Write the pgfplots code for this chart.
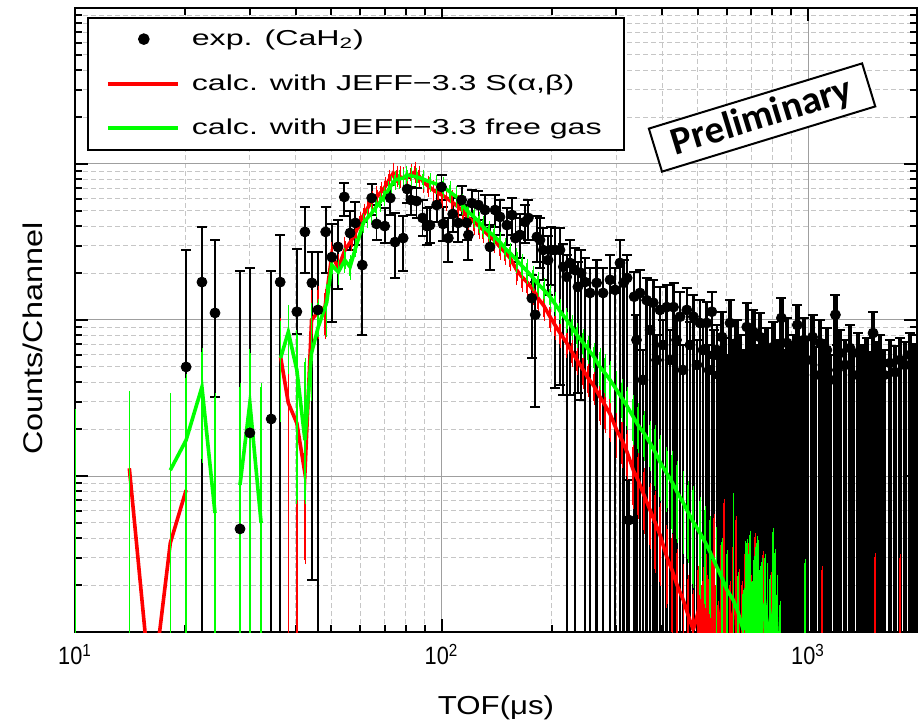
\documentclass[border=0pt]{standalone}
\usepackage{fontspec}
\setmainfont{Liberation Sans}
\newfontfamily\legfont{Liberation Sans}[FakeStretch=1.49]
\newfontfamily\labfont{Liberation Sans}[FakeStretch=1.2]
\newfontfamily\tickfont{Liberation Sans}[FakeStretch=0.87]
\newfontfamily\prelfont{Carlito}
\usepackage{pgfplots}
\pgfplotsset{compat=1.18}
\definecolor{cred}{RGB}{255,0,0}
\definecolor{cgreen}{RGB}{0,255,0}

\pgfplotsset{
  table/bnd/.style={x=x, y=y, y error plus expr=\thisrow{hi}-\thisrow{y}, y error minus expr=\thisrow{y}-\thisrow{lo}},
  expbars/.style={black, only marks, mark=*, mark size=2.5pt,
    error bars/y dir=both, error bars/y explicit,
    error bars/error bar style={line width=#1},
    error bars/error mark options={rotate=90, line width=0.9pt, mark size=2.5pt, black}, forget plot},
  calcbnd/.style={line width=1.8pt, mark=none,
    error bars/y dir=both, error bars/y explicit,
    error bars/error bar style={line width=0.8pt},
    error bars/error mark options={rotate=90, line width=0.8pt, mark size=1.7pt}, forget plot},
  calcrel/.style={line width=1.8pt, mark=none,
    error bars/y dir=both, error bars/y explicit relative,
    error bars/error bar style={line width=0.8pt},
    error bars/error mark options={rotate=90, line width=0.8pt, mark size=1.7pt}, forget plot},
}

\begin{document}
\begin{tikzpicture}
\path[use as bounding box] (0,0) rectangle (459pt,362.5pt);
\begin{axis}[
  at={(37.5pt,46.5pt)}, anchor=south west,
  width=421pt, height=312pt, scale only axis,
  xmode=log, ymode=log,
  xmin=10, xmax=1984, ymin=1, ymax=10000,
  xtick={10,100,1000},
  xticklabels={10\textsuperscript{1},10\textsuperscript{2},10\textsuperscript{3}},
  minor xtick={20,30,40,50,60,70,80,90,200,300,400,500,600,700,800,900},
  ytick={1,10,100,1000,10000}, yticklabels={},
  minor ytick={2,3,4,5,6,7,8,9,20,30,40,50,60,70,80,90,200,300,400,500,600,700,800,900,2000,3000,4000,5000,6000,7000,8000,9000},
  xmajorgrids, ymajorgrids, xminorgrids, yminorgrids,
  major grid style={gray!75, line width=0.5pt},
  minor grid style={gray!45, line width=0.5pt, dash pattern=on 2.5pt off 1.5pt},
  axis line style={black, line width=1.2pt},
  tick style={black, line width=1pt},
  major tick length=6.5pt, minor tick length=3.5pt,
  xticklabel style={font=\tickfont\fontsize{12.5}{14}\selectfont, yshift=-2.5pt},
  xlabel={TOF(μs)}, ylabel={Counts/Channel},
  xlabel style={font=\labfont\fontsize{13}{15}\selectfont, at={(axis description cs:0.5,-0.122)}, anchor=center},
  ylabel style={font=\labfont\fontsize{13.5}{15}\selectfont, at={(axis description cs:-0.05,0.47)}, anchor=center},
  legend style={at={(axis description cs:0.0143,0.9856)}, anchor=north west, draw=black, line width=0.8pt, fill=white,
    font=\legfont\fontsize{10.8}{12}\selectfont, inner xsep=9pt, inner ysep=4pt, row sep=9pt},
  legend cell align=left,
]

% experiment, sparse part
\addplot[expbars=0.9pt] table[bnd] {
x y lo hi
20.1 50.0 0.3 281
22.2 175 0.3 395
24.1 111 32.1 326
28.2 4.58 0.3 206
30.0 18.9 0.3 216
34.3 23.2 0.3 206
36.3 175 0.3 351
40.3 113 81.3 285
42.4 367 200 530
44.3 173 2.15 273
46.0 116 0.3 273
48.3 367 200 530
50.2 253 97.1 413
52.2 294 158 438
54.3 615 464 755
56.3 361 281 500
58.2 419 303 571
60.8 225 80.1 425
64.5 605 471 744
66.5 413 326 546
70.0 400 312 523
72.5 605 471 733
74.7 316 186 485
78.6 335 206 464
80.6 691 562 814
82.5 588 471 712
85.5 579 451 702
88.8 451 346 588
91.3 400 303 523
93.0 406 312 530
97.0 546 425 681
100 712 588 850
101 413 321 530
104.4 335 235 451
107.3 478 367 605
111.1 419 316 546
113.5 588 471 723
117.2 419 326 546
118.4 351 242 451
121 562 451 681
126.1 546 438 671
131.4 507 389 633
135.6 294 209 406
140 507 395 633
144.4 458 351 588
150.8 406 303 523
155.8 471 351 605
159.1 335 235 451
163.7 351 250 478
169 425 312 546
172.6 451 326 588
176.4 138 57.1 194
180.2 108 27.7 175
182.1 341 235 464
185.7 326 216 451
189.5 281 181 389
195.4 242 145 346
199.5 281 168 395
203.9 281 36.7 389
210.5 281 38.3 389
215 219 33.1 307
219.6 189 0.3 261
224.2 232 33.1 326
231.4 209 0.3 289
235.6 163 34.1 235
240.5 200 30.7 281
};

% experiment, dense part with gaps
\addplot[expbars=1.3pt] table[bnd] {
x y lo hi
246.3 175 0.3 250
254.2 149 0.3 216
265 173 0.3 242
276 149 0.3 216
288.3 181 0.3 261
297.5 156 0.3 216
306.9 232 0.3 326
314 173 0.3 242
321 186 0.3 261
324.5 5.22 0.3 9.43
335.5 141 0.3 203
340.4 74.5 0.3 108
348 149 0.3 209
354.6 41.3 0.3 64.2
362.9 134 0.3 186
370.7 86.3 0.3 125
378.4 129 0.3 181
386.2 55.4 0.3 80.1
394.7 116 0.3 163
402.2 69.2 0.3 100
411.8 121 0.3 168
420.3 55.4 0.3 86.3
429.6 121 0.3 173
437.8 74.5 0.3 103
447.6 105 0.3 151
456.1 47.8 0.3 69.2
467 116 0.3 160
476.4 69.2 0.3 97.1
486.9 105 0.3 145
497.8 51.5 0.3 74.5
507.4 95.7 0.3 134
517 64.2 0.3 92.9
529 95.7 0.3 130
536.9 47.8 0.3 69.2
546.5 113 0.3 151
554.2 59.7 0.3 86.3
564.1 64.2 0.3 92.9
571.9 44.4 0.3 64.2
};

% experiment, dense part (solid)
\addplot[expbars=2.3pt] table[bnd] {
x y lo hi
582.6 77.8 0.3 113
593.8 55.4 0.3 76.7
603.2 41.3 0.3 59.7
612.8 95.7 0.3 134
625.7 51.5 0.3 74.5
639.3 71.3 0.3 100
652.5 55.4 0.3 80.1
666.2 44.4 0.3 64.2
680.9 90.2 0.3 129
694.7 59.7 0.3 86.3
710 83.8 0.3 116
724.6 47.8 0.3 69.2
739.6 77.8 0.3 111
755.1 53.0 0.3 76.7
771 64.2 0.3 88.9
787.6 44.4 0.3 64.2
804 67.2 0.3 97.1
823 51.5 0.3 74.5
846 103 0.3 138
860 41.3 0.3 64.2
876 71.3 0.3 103
893.1 51.5 0.3 72.3
915 58.0 0.3 80.1
935 92.9 0.3 125
951 47.8 0.3 69.2
975 74.5 0.3 103
993.8 55.4 0.3 76.7
1029 77.8 0.3 108
1045 44.4 0.3 67.2
1078 71.3 0.3 100
1098 51.5 0.3 74.5
1126 64.2 0.3 88.9
1148 41.3 0.3 59.7
1188 108 0.3 145
1203 47.8 0.3 69.2
1223 61.5 0.3 86.3
1262 51.5 0.3 74.5
1302 66.1 0.3 92.9
1327 44.4 0.3 64.2
1370 61.5 0.3 82.5
1404 47.8 0.3 69.2
1445 55.4 0.3 76.7
1468 41.3 0.3 62.3
1505 82.5 0.3 113
1533 49.3 0.3 72.3
1572 57.1 0.3 80.1
1612 44.4 0.3 64.2
1674 53.0 0.3 74.5
1728 46.3 0.3 68.2
1782 55.4 0.3 76.7
1839 51.5 0.3 72.3
1898 59.7 0.3 82.5
1946 47.8 0.3 69.2
};

% ---- S(alpha,beta) calculation (red) ----
\addplot[cred, calcbnd, error bars/error mark options={cred}] table[bnd] {
x y lo hi
14.07 11.2 0.3 28.9
16.17 0.37 0.37 0.37
18.2 3.72 0.3 24.6
20.1 8.13 0.3 31.2
};
\addplot[cred, calcbnd, error bars/error mark options={cred}] table[bnd] {
x y lo hi
36.4 58.0 28.1 97.1
38.2 29.4 0.3 65.2
40.3 21.8 0.3 58.8
42.4 10.4 2.89 48.5
44.2 100 77.8 147
46.1 113 80.1 156
48.1 121 80.1 149
};
\addplot[cred, calcrel, error bars/error mark options={cred}] table[x=x, y=y, y error=r] {
x y r
48.1 121 0.2
50.2 261 0.15
52.3 216 0.15
54.5 281 0.15
56.9 326 0.1
58.4 367 0.1
59.9 425 0.1
61.5 478 0.1
63.1 530 0.1
64.8 579 0.1
66.6 615 0.1
68.4 661 0.1
70.1 712 0.1
71.9 790 0.1
73.9 876 0.1
75.6 838 0.1
77.1 826 0.1
78.8 814 0.1
80.4 814 0.1
82.6 863 0.1
84.7 889 0.1
86.8 838 0.1
89.2 767 0.1
91.9 723 0.1
95.0 681 0.1
97.8 652 0.1
100.3 633 0.12
103.3 605 0.12
106.8 571 0.12
111.1 530 0.12
114.5 500 0.12
118.3 451 0.12
122.7 425 0.12
126.6 400 0.12
130.0 378 0.12
134.8 346 0.12
139.1 326 0.12
144.4 294 0.12
149.0 273 0.12
153.8 250 0.12
160.4 209 0.15
165.8 189 0.15
171.1 175 0.15
178.0 156 0.15
183.4 138 0.15
190.4 123 0.15
197.7 105 0.15
204.0 92.9 0.15
210.5 82.5 0.15
219.6 71.3 0.15
227.0 62.3 0.15
234.3 55.4 0.15
243.7 47.8 0.2
251.0 42.5 0.2
260.7 37.7 0.2
270.7 32.1 0.3
279.3 28.5 0.3
288.3 25.0 0.3
300.6 19.7 0.3
310.8 17.0 0.3
320.7 14.3 0.3
333.7 10.9 0.4
343.7 9.43 0.4
356.9 7.55 0.4
370.7 6.05 0.4
382.3 5.07 0.5
394.7 4.19 0.5
411.7 3.03 0.5
425.6 2.50 0.6
439.2 2.00 0.6
456.9 1.60 0.6
470.5 1.29 0.7
486.4 1.03 0.7
};
\addplot[cred, calcbnd, error bars/error mark options={cred}] table[bnd] {
x y lo hi
486.4 1.03 0.5 1.5
501.1 1.34 0.3 2.5
507.0 1.10 0.3 3.1
513.8 0.6 0.3 2.0
520.0 1.25 0.3 2.6
526.9 1.73 0.3 3.0
533.0 0.9 0.3 2.2
540.4 0.6 0.3 1.8
547.0 1.2 0.3 2.9
554.0 1.49 0.3 5.38
561.0 0.8 0.3 2.0
568.1 0.5 0.3 1.5
578.0 1.3 0.3 3.4
589.9 1.86 0.3 6.72
600.0 0.9 0.3 2.6
612.8 0.5 0.3 2.0
624.0 1.3 0.3 3.5
636.2 1.60 0.3 5.22
648.0 0.7 0.3 2.4
660.6 0.6 0.3 2.0
672.0 1.1 0.3 3.0
686.0 1.19 0.3 3.5
700.0 0.6 0.3 2.2
716.8 0.4 0.3 4.06
};
\addplot[cred, calcbnd, only marks, mark=none, error bars/error mark options={cred}] table[bnd] {
x y lo hi
10.0 0.5 0.3 24.3
754.1 0.5 0.3 3.12
797.7 0.5 0.3 2.42
1092 0.5 0.3 2.50
1523 0.5 0.3 3.02
1782 0.5 0.3 2.98
};

% ---- free gas calculation (green) ----
\addplot[cgreen, calcbnd, error bars/error mark options={cgreen}] table[bnd] {
x y lo hi
18.2 10.9 0.3 32.1
20.1 17.0 0.3 42.5
22.2 37.2 12.9 62.3
24.1 5.79 0.3 32.1
};
\addplot[cgreen, calcbnd, error bars/error mark options={cgreen}] table[bnd] {
x y lo hi
28.2 8.76 0.3 37.2
30.0 29.4 0.3 61.5
32.2 5.0 0.3 37.2
};
\addplot[cgreen, calcbnd, error bars/error mark options={cgreen}] table[bnd] {
x y lo hi
36.4 57.1 23.6 92.9
38.2 83.8 47.8 118
40.3 47.8 7.02 81.3
42.4 17.0 7.02 53.8
44.2 61.5 32.1 121
46.1 90.2 82.5 129
48.6 129 82.5 160
};
\addplot[cgreen, calcrel, error bars/error mark options={cgreen}] table[x=x, y=y, y error=r] {
x y r
48.6 129 0.2
50.2 225 0.12
52.3 203 0.12
54.5 242 0.12
56.3 219 0.12
58.4 294 0.08
61.2 419 0.08
62.8 451 0.08
64.5 485 0.08
66.3 530 0.08
68.0 571 0.08
69.7 624 0.08
71.6 681 0.08
73.0 733 0.08
74.7 790 0.08
76.6 802 0.08
78.7 814 0.08
80.4 851 0.08
82.8 838 0.08
85.6 826 0.08
89.0 802 0.08
93.0 767 0.08
96.9 744 0.08
101.1 712 0.1
105.5 662 0.1
110.0 615 0.1
113.7 554 0.1
118.3 492 0.1
122.7 458 0.1
126.6 425 0.1
130.0 395 0.1
134.8 367 0.1
139.1 346 0.1
144.4 316 0.1
149.0 289 0.1
153.8 269 0.1
160.4 242 0.12
165.8 222 0.12
171.1 206 0.12
178.0 186 0.12
183.4 170 0.12
190.4 156 0.12
197.7 141 0.12
204.0 127 0.12
210.5 114 0.12
219.6 100 0.12
227.0 90.2 0.12
234.3 80.1 0.12
243.7 71.3 0.15
251.0 65.2 0.15
260.7 58.0 0.15
270.7 50.0 0.25
279.3 45.7 0.25
288.3 41.3 0.25
300.6 35.6 0.25
310.8 31.6 0.25
320.7 28.1 0.25
333.7 23.9 0.3
343.7 21.2 0.3
356.9 18.8 0.3
370.7 16.3 0.3
382.3 14.3 0.4
394.7 12.3 0.4
411.7 10.4 0.4
425.6 9.15 0.5
439.2 7.90 0.5
456.9 6.72 0.5
470.5 5.87 0.5
486.4 5.07 0.6
507.4 4.31 0.6
523.6 3.78 0.6
540.4 3.26 0.6
563.5 2.62 0.7
582.5 2.22 0.7
601.2 1.86 0.7
625.5 1.60 0.7
644.2 1.34 0.7
666 1.03 0.7
};
\addplot[cgreen, calcbnd, error bars/error mark options={cgreen}] table[bnd] {
x y lo hi
666 1.03 0.5 1.5
676 1.9 0.3 3.6
686.0 1.38 0.3 3.0
695 2.1 0.5 4.2
703.5 0.5 0.3 2.0
712 1.2 0.3 2.9
721.4 1.60 0.3 3.5
730 1.9 0.4 3.9
739.6 0.5 0.3 2.5
750 1.3 0.3 2.8
763 1.49 0.3 3.0
775 1.1 0.3 2.6
787.6 0.5 0.3 2.2
800 1.2 0.3 2.7
812.8 1.73 0.3 3.2
825 0.9 0.3 2.2
838.6 0.4 0.3 1.5
};
\addplot[cgreen, calcbnd, only marks, mark=none, error bars/error mark options={cgreen}] table[bnd] {
x y lo hi
10.0 0.5 0.3 25.3
14.07 0.5 0.3 33.1
625.5 0.5 0.3 7.33
681.7 0.5 0.3 3.72
802.7 0.5 0.3 4.38
981.3 0.5 0.3 2.77
};

\node[draw=black, line width=1pt, fill=white, rotate=17, inner sep=0pt,
  minimum width=111.5pt, minimum height=22.5pt,
  font=\prelfont\bfseries\fontsize{19.5}{22}\selectfont]
  at (rel axis cs:0.816,0.8245) {Preliminary};

\addlegendimage{legend image code/.code={\fill[black] (18pt,0pt) circle (2.5pt); \path[draw=none] (0pt,0pt) -- (40pt,0pt);}}
\addlegendentry{exp. (CaH\textsubscript{2})}
\addlegendimage{legend image code/.code={\draw[cred, line width=2pt] (0pt,0pt) -- (35pt,0pt); \path[draw=none] (35pt,0pt) -- (40pt,0pt);}}
\addlegendentry{calc. with JEFF−3.3 S(α,β)}
\addlegendimage{legend image code/.code={\draw[cgreen, line width=2pt] (0pt,0pt) -- (35pt,0pt); \path[draw=none] (35pt,0pt) -- (40pt,0pt);}}
\addlegendentry{calc. with JEFF−3.3 free gas}
\end{axis}
\end{tikzpicture}
\end{document}
